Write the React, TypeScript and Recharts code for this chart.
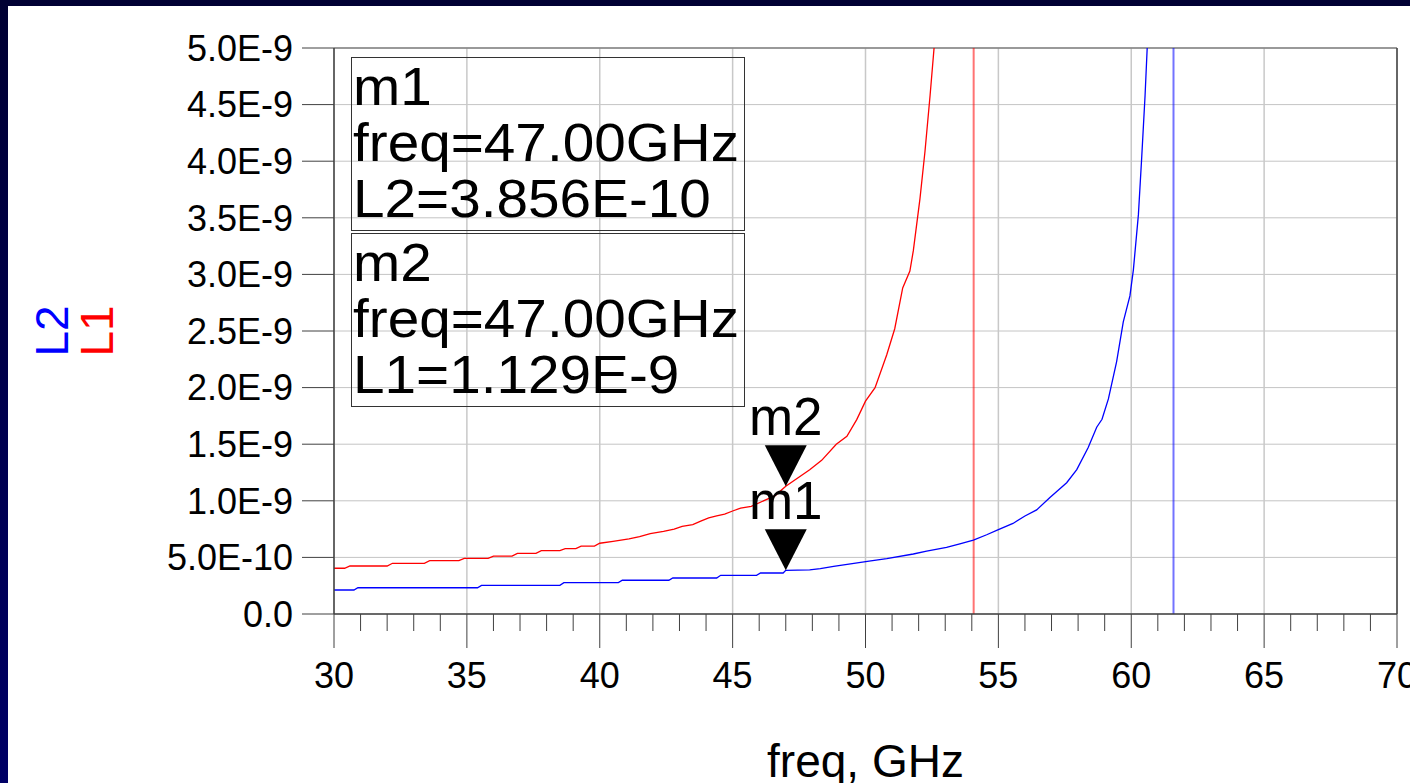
import React from "react";
import {
  ComposedChart,
  Line,
  Scatter,
  XAxis,
  YAxis,
  CartesianGrid,
  ReferenceLine,
} from "recharts";

// L1 (red) — inductance in nH
const l1Freq = [
  30, 30.4, 30.6, 32.0, 32.2, 33.4, 33.6, 34.7, 34.9, 35.8, 36.0, 36.7, 36.9, 37.6, 37.8,
  38.5, 38.7, 39.1, 39.3, 39.8, 40.0, 40.5, 41.1, 41.5, 41.9, 42.4, 42.8, 43.1, 43.5, 43.8,
  44.1, 44.4, 44.7, 45.0, 45.3, 45.7, 46.6, 47.0, 47.9, 48.35, 48.9, 49.3, 49.67, 50.0,
  50.36, 50.8, 51.1, 51.4, 51.67, 51.8, 52.05, 52.24, 52.43, 52.58,
];
const l1Val = [
  0.404, 0.404, 0.424, 0.424, 0.448, 0.448, 0.471, 0.471, 0.492, 0.492, 0.512, 0.512, 0.536,
  0.536, 0.559, 0.559, 0.577, 0.577, 0.6, 0.6, 0.625, 0.642, 0.663, 0.683, 0.71, 0.73, 0.75,
  0.775, 0.79, 0.82, 0.85, 0.866, 0.883, 0.91, 0.935, 0.95, 1.046, 1.129, 1.275, 1.357, 1.5,
  1.57, 1.717, 1.88, 2.0, 2.29, 2.52, 2.88, 3.03, 3.21, 3.67, 4.09, 4.58, 5.0,
];

// L2 (blue)
const l2Freq = [
  30, 30.75, 30.9, 35.4, 35.55, 38.5, 38.65, 40.7, 40.85, 42.6, 42.75, 44.4, 44.55, 45.9,
  46.05, 46.9, 47.0, 47.9, 48.3, 48.8, 49.5, 50.2, 50.8, 51.8, 52.3, 53.05, 53.55, 54.06,
  54.56, 55.0, 55.55, 56.0, 56.44, 56.94, 57.57, 57.95, 58.38, 58.7, 58.9, 59.14, 59.45,
  59.7, 59.95, 60.08, 60.27, 60.39, 60.52, 60.6,
];
const l2Val = [
  0.212, 0.212, 0.232, 0.232, 0.253, 0.253, 0.277, 0.277, 0.298, 0.298, 0.318, 0.318, 0.342,
  0.342, 0.362, 0.362, 0.3856, 0.39, 0.4, 0.42, 0.445, 0.47, 0.49, 0.53, 0.556, 0.588, 0.62,
  0.653, 0.7, 0.745, 0.8, 0.866, 0.92, 1.03, 1.16, 1.275, 1.47, 1.65, 1.72, 1.9, 2.23, 2.58,
  2.81, 3.04, 3.53, 4.02, 4.58, 5.0,
];

// resonance asymptotes (GHz)
const l1Pole = 54.07;
const l2Pole = 61.59;

const majorTicks = [30, 35, 40, 45, 50, 55, 60, 65, 70];
const freqTicks = Array.from({ length: 41 }, (_, i) => 30 + i);
const yTicks = [0, 0.5, 1, 1.5, 2, 2.5, 3, 3.5, 4, 4.5, 5];

const markerNames = ["m1", "m2"];
const markerFreq = [47, 47];
const markerVal = [0.3856, 1.129];
const markerText = [
  ["m1", "freq=47.00GHz", "L2=3.856E-10"],
  ["m2", "freq=47.00GHz", "L1=1.129E-9"],
];

const l1Data = l1Freq.map((f, i) => ({ f, v: l1Val[i] }));
const l2Data = l2Freq.map((f, i) => ({ f, v: l2Val[i] }));
const markerData = markerNames.map((name, i) => ({ f: markerFreq[i], v: markerVal[i], name }));

const FONT = "'Liberation Sans', Arial, sans-serif";
const AXIS = "#404040";

const fmtY = (v: number) => {
  if (v === 0) return "0.0";
  return (v * 1e-9).toExponential(1).toUpperCase();
};

const FreqTick = (props: any) => {
  const { x, y, payload } = props;
  const major = payload.value % 5 === 0;
  return (
    <g>
      <line x1={x} y1={y} x2={x} y2={y + (major ? 34 : 17)} stroke={AXIS} strokeWidth={1} />
      {major && (
        <text x={x} y={y + 74} textAnchor="middle" fontSize={36} fill="#000" fontFamily={FONT}>
          {payload.value}
        </text>
      )}
    </g>
  );
};

const MarkerShape = (props: any) => {
  const { cx, cy, payload } = props;
  return (
    <g>
      <polygon points={`${cx - 21},${cy - 41} ${cx + 21},${cy - 41} ${cx},${cy}`} fill="#000" />
      <text x={cx} y={cy - 51} textAnchor="middle" fontSize={53} fill="#000" fontFamily={FONT}>
        {payload.name}
      </text>
    </g>
  );
};

const YLabel = (props: any) => {
  const { viewBox } = props;
  const cy = viewBox.y + viewBox.height / 2;
  return (
    <g fontFamily={FONT} fontSize={46}>
      <text x={68} y={cy} transform={`rotate(-90 68 ${cy})`} textAnchor="middle" fill="#0000ff">
        L2
      </text>
      <text x={113} y={cy} transform={`rotate(-90 113 ${cy})`} textAnchor="middle" fill="#ff0000">
        L1
      </text>
    </g>
  );
};

const MarkerBox = ({ lines, top, height }: { lines: string[]; top: number; height: number }) => (
  <div
    style={{
      position: "absolute",
      left: 351,
      top,
      width: 394,
      height,
      border: "1px solid #333",
      fontFamily: FONT,
      fontSize: 54,
      lineHeight: "56px",
      color: "#000",
      whiteSpace: "nowrap",
      paddingLeft: 1,
      boxSizing: "border-box",
    }}
  >
    {lines.map((t) => (
      <div key={t} style={{ transform: "scaleX(1.05)", transformOrigin: "left center" }}>
        {t}
      </div>
    ))}
  </div>
);

export default function App() {
  return (
    <div
      style={{
        position: "fixed",
        left: 0,
        top: 0,
        width: 1410,
        height: 783,
        background: "linear-gradient(to bottom, #000033, #000066)",
        overflow: "hidden",
      }}
    >
      <div
        style={{ position: "absolute", left: 8, top: 6, width: 1402, height: 777, background: "#fff" }}
      />
      <div style={{ position: "absolute", left: 0, top: 0 }}>
        <ComposedChart
          width={1410}
          height={783}
          margin={{ top: 48, right: 13, bottom: 0, left: 0 }}
        >
          <CartesianGrid vertical={false} stroke="#c4c4c4" />
          {majorTicks.map((t) => (
            <ReferenceLine key={t} x={t} stroke="#c8c8c8" strokeWidth={1.5} />
          ))}
          <ReferenceLine y={5} stroke="#808080" strokeWidth={1.5} />
          <ReferenceLine x={70} stroke={AXIS} strokeWidth={1.5} />
          <XAxis
            dataKey="f"
            type="number"
            domain={[30, 70]}
            ticks={freqTicks}
            interval={0}
            allowDataOverflow
            height={169}
            tickSize={0}
            tickMargin={0}
            tickLine={false}
            axisLine={{ stroke: AXIS, strokeWidth: 1.5 }}
            tick={<FreqTick />}
            label={{
              value: "freq, GHz",
              position: "insideBottom",
              offset: 6,
              fontSize: 46,
              fill: "#000",
              fontFamily: FONT,
            }}
          />
          <YAxis
            type="number"
            domain={[0, 5]}
            ticks={yTicks}
            allowDataOverflow
            width={334}
            tickSize={32}
            tickMargin={9}
            tickFormatter={fmtY}
            axisLine={{ stroke: AXIS, strokeWidth: 1.5 }}
            tickLine={{ stroke: AXIS }}
            tick={{ fontSize: 36, fill: "#000", fontFamily: FONT }}
            label={<YLabel />}
          />
          <ReferenceLine x={l1Pole} stroke="rgba(255,0,0,0.55)" strokeWidth={2} />
          <ReferenceLine x={l2Pole} stroke="rgba(0,0,255,0.55)" strokeWidth={2} />
          <Line
            data={l1Data}
            dataKey="v"
            type="linear"
            stroke="#ff0000"
            strokeWidth={1.3}
            dot={false}
            isAnimationActive={false}
          />
          <Line
            data={l2Data}
            dataKey="v"
            type="linear"
            stroke="#0000ff"
            strokeWidth={1.3}
            dot={false}
            isAnimationActive={false}
          />
          <Scatter data={markerData} dataKey="v" shape={<MarkerShape />} isAnimationActive={false} />
        </ComposedChart>
      </div>
      <MarkerBox lines={markerText[0]} top={57} height={174} />
      <MarkerBox lines={markerText[1]} top={233} height={174} />
    </div>
  );
}
